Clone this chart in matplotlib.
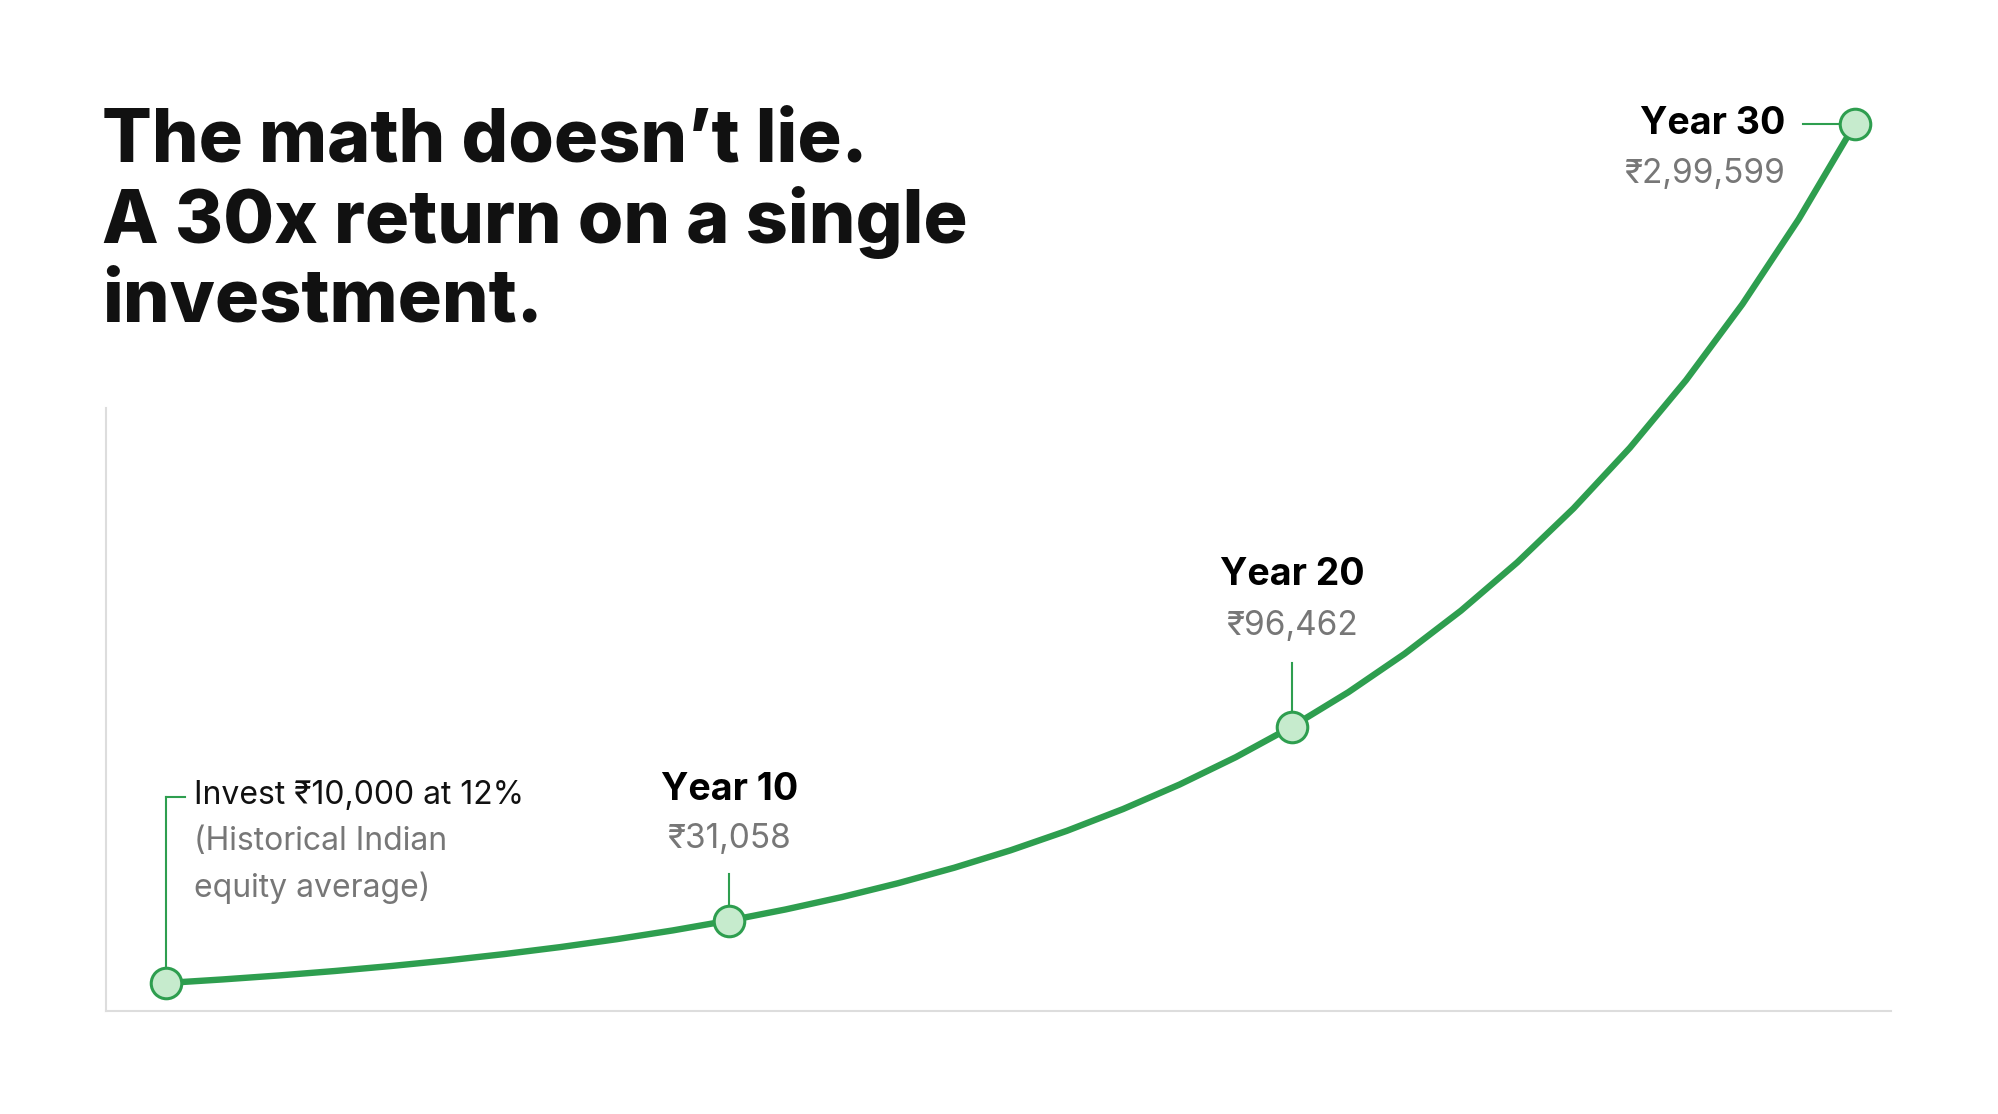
import matplotlib
matplotlib.use("Agg")
import matplotlib.pyplot as plt
from matplotlib.lines import Line2D

plt.rcParams['font.family'] = ['Inter', 'DejaVu Sans']

years = list(range(31))
values = [10000, 11200, 12544, 14049, 15735, 17623, 19738, 22107, 24760, 27731,
          31058, 34785, 38960, 43635, 48871, 54736, 61304, 68660, 76900, 86128,
          96463, 108038, 121003, 135523, 151786, 170001, 190401, 213249, 238839, 267499,
          299599]
milestone_years = [0, 10, 20, 30]
milestone_values = [10000, 31058, 96462, 299599]
milestone_titles = ["", "Year 10", "Year 20", "Year 30"]
milestone_labels = ["", "₹31,058", "₹96,462", "₹2,99,599"]
title = "The math doesn’t lie.\nA 30x return on a single\ninvestment."

W, H = 1999, 1114
fig = plt.figure(figsize=(W/100, H/100), dpi=100)
GREEN = "#2e9e4f"
FILL = "#c6ebcd"

def fx(px): return px / W
def fy(py): return 1 - py / H

ax = fig.add_axes([fx(106), fy(1011), fx(1891) - fx(106), fy(124) - fy(1011)])
ax.set_xlim(-1.07, 30.64)
ax.set_ylim(560, 299599)
ax.plot(years, values, color=GREEN, lw=4.6, solid_capstyle='round', clip_on=False, zorder=3)
ax.plot(milestone_years, milestone_values, 'o', ms=22, mfc=FILL, mec=GREEN, mew=2.2,
        clip_on=False, zorder=4)
for s in ['top', 'right']:
    ax.spines[s].set_visible(False)
for s in ['left', 'bottom']:
    ax.spines[s].set_color('#dddddd')
    ax.spines[s].set_linewidth(1.5)
ax.spines['left'].set_bounds(560, 203850)
ax.set_xticks([]); ax.set_yticks([])

fig.text(fx(102), fy(222), title, fontsize=53, fontweight='heavy', color='#111111',
         va='center', ha='left', linespacing=1.17)

def line(x0, y0, x1, y1):
    fig.add_artist(Line2D([fx(x0), fx(x1)], [fy(y0), fy(y1)], color=GREEN, lw=1.5,
                          transform=fig.transFigure))

def pix(i):
    x, y = ax.transData.transform((milestone_years[i], milestone_values[i]))
    return x, H - y

# Year 30
x3, y3 = pix(3)
fig.text(fx(x3 - 70), fy(y3), milestone_titles[3], fontsize=27, fontweight='bold', ha='right', va='center')
fig.text(fx(x3 - 70), fy(y3 + 50), milestone_labels[3], fontsize=24, color='#777777', ha='right', va='center')
line(x3 - 52, y3, x3 - 17, y3)
# Year 20 and Year 10
for i, (dt, dv, c0, c1) in {2: (152, 101, 64, 17), 1: (131, 82, 47, 17)}.items():
    xi, yi = pix(i)
    fig.text(fx(xi), fy(yi - dt), milestone_titles[i], fontsize=27, fontweight='bold', ha='center', va='center')
    fig.text(fx(xi), fy(yi - dv), milestone_labels[i], fontsize=24, color='#777777', ha='center', va='center')
    line(xi, yi - c0, xi, yi - c1)
# Year 0
x0, y0 = pix(0)
fig.text(fx(194), fy(796), "Invest ₹10,000 at 12%", fontsize=23, ha='left', va='center', color='#111111')
fig.text(fx(194), fy(842), "(Historical Indian", fontsize=23, ha='left', va='center', color='#777777')
fig.text(fx(194), fy(888), "equity average)", fontsize=23, ha='left', va='center', color='#777777')
line(x0, 797, x0, y0 - 17)
line(x0, 797, 185, 797)

fig.savefig("out.png", dpi=100, facecolor='white')
